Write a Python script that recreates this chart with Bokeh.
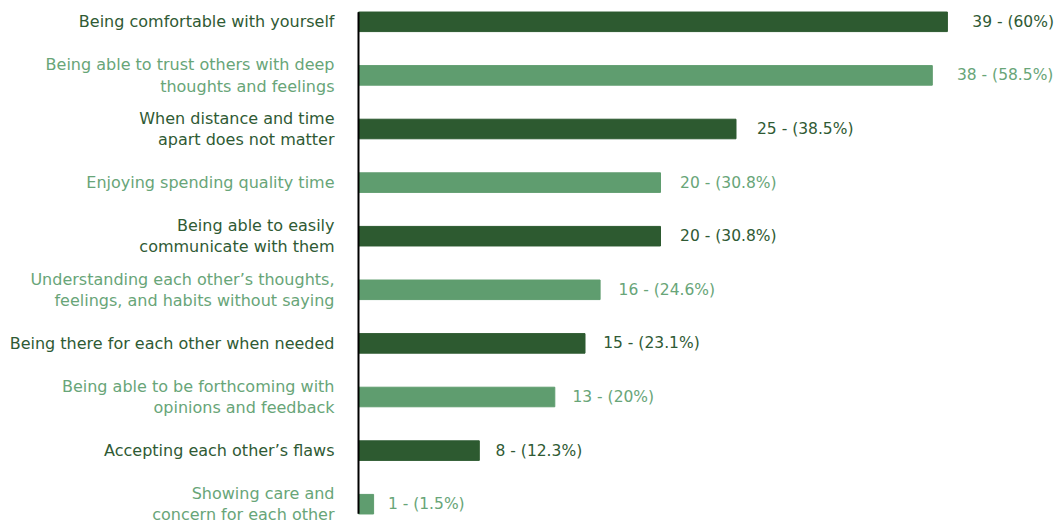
from bokeh.plotting import figure
from bokeh.models import Range1d, ColumnDataSource
from bokeh.core.properties import value
from bokeh.embed import file_html
from bokeh.resources import INLINE

categories = [
    "Being comfortable with yourself",
    "Being able to trust others with deep\nthoughts and feelings",
    "When distance and time\napart does not matter",
    "Enjoying spending quality time",
    "Being able to easily\ncommunicate with them",
    "Understanding each other\u2019s thoughts,\nfeelings, and habits without saying",
    "Being there for each other when needed",
    "Being able to be forthcoming with\nopinions and feedback",
    "Accepting each other\u2019s flaws",
    "Showing care and\nconcern for each other",
]
counts = [39, 38, 25, 20, 20, 16, 15, 13, 8, 1]
percents = ["60%", "58.5%", "38.5%", "30.8%", "30.8%", "24.6%", "23.1%", "20%", "12.3%", "1.5%"]

DARK_BAR = "#2d5a30"
LIGHT_BAR = "#5f9d6f"
DARK_TXT = "#2f5a34"
LIGHT_TXT = "#68a578"

n = len(categories)
ys = list(range(n))
bar_colors = [DARK_BAR if i % 2 == 0 else LIGHT_BAR for i in ys]
txt_colors = [DARK_TXT if i % 2 == 0 else LIGHT_TXT for i in ys]
val_labels = [f"{c} - ({p})" for c, p in zip(counts, percents)]
label_x = [c * 1.0185 for c in counts]

src = ColumnDataSource(dict(y=ys, cat=categories, cnt=counts, zero=[0] * n,
                            bc=bar_colors, tc=txt_colors, vl=val_labels, lx=label_x))

W, H = 1059, 525
px_per_unit = 15.1
left_px = 358
row_px = 53.6
top_center = 21.3

p = figure(width=W, height=H, output_backend="svg", toolbar_location=None,
           x_range=Range1d(-left_px / px_per_unit, (W - left_px) / px_per_unit),
           y_range=Range1d(n - 1 + (H - (top_center + (n - 1) * row_px)) / row_px, -top_center / row_px),
           min_border=0, min_border_left=0, min_border_right=0,
           min_border_top=0, min_border_bottom=0)
p.outline_line_color = None
p.xaxis.visible = False
p.yaxis.visible = False
p.xgrid.visible = False
p.ygrid.visible = False
p.background_fill_color = "white"
p.border_fill_color = "white"

p.hbar(y="y", left="zero", right="cnt", height=0.365, color="bc", source=src)

# axis line
p.segment(x0=[0], y0=[ys[0] - 0.18], x1=[0], y1=[ys[-1] + 0.18], line_color="black", line_width=2)

p.text(x="zero", y="y", text="cat", source=src, text_align="right", text_baseline="middle",
       x_offset=-24, text_color="tc", text_font=value("DejaVu Sans"),
       text_font_size="16px", text_line_height=1.13)

p.text(x="lx", y="y", text="vl", source=src, text_align="left", text_baseline="middle",
       x_offset=14, text_color="tc", text_font=value("DejaVu Sans"),
       text_font_size="15.5px")

open("out.html", "w").write(file_html(p, INLINE))
